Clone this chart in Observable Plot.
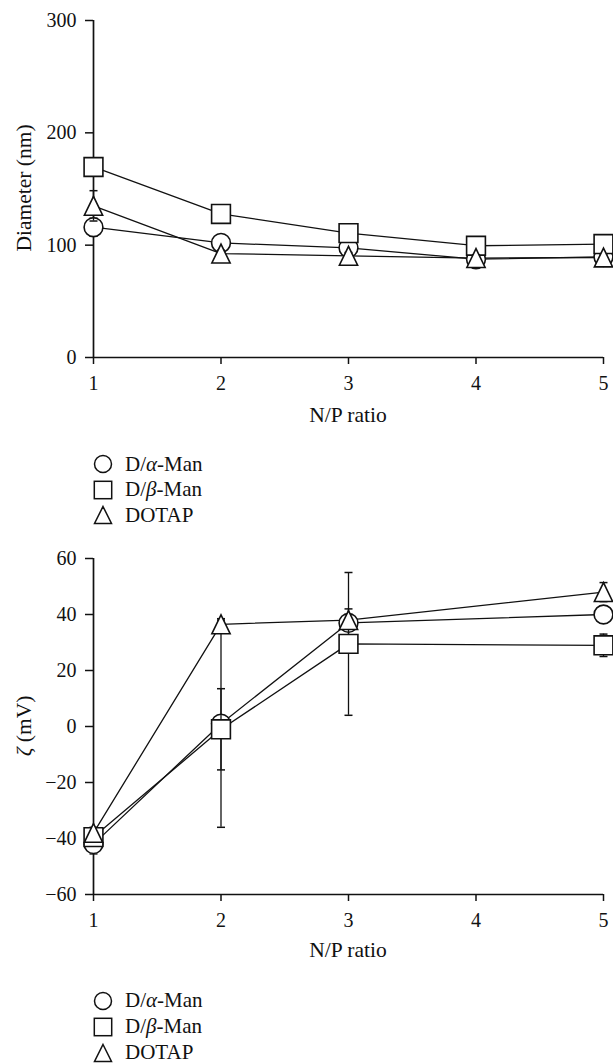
<!DOCTYPE html>
<html>
<head>
<meta charset="utf-8">
<script src="https://cdn.jsdelivr.net/npm/d3@7"></script>
<script src="https://cdn.jsdelivr.net/npm/@observablehq/plot@0.6"></script>
<style>
  html, body { margin: 0; padding: 0; background: #fff; }
  #wrap { position: relative; width: 613px; height: 1063px; overflow: hidden; font-family: "Liberation Serif", "Times New Roman", Tinos, serif; color: #111; }
  .abs { position: absolute; }
  .title { font-size: 21.5px; line-height: 21px; white-space: nowrap; }
  .ylab { transform: translate(-50%, -50%) rotate(-90deg); }
  .leg { position: absolute; left: 92px; display: flex; align-items: center; font-size: 21px; line-height: 21px; white-space: nowrap; }
  .leg svg { width: 22px; height: 22px; margin-right: 11px; overflow: visible; }
</style>
</head>
<body>
<div id="wrap"></div>
<script>
// ---------- data ----------
const seriesNames = ["D/α-Man", "D/β-Man", "DOTAP"];

// Panel A: particle diameter (nm)
const ratiosA = [1, 2, 3, 4, 5];
const diamAlpha = [116, 102, 97.6, 87.5, 89.5];
const diamBeta = [169.6, 127.8, 110.7, 99.5, 101];
const diamDotap = [135, 92.5, 90.5, 88.5, 89];
const diamAlphaErr = [8, 3, 3, 3, 2];
const diamBetaErr = [8, 3, 3, 3, 3];
const diamDotapErr = [13.5, 3, 3, 3, 3];
const diamTicks = [0, 100, 200, 300];

// Panel B: zeta potential (mV)
const ratiosB = [1, 2, 3, 5];
const zetaAlpha = [-42, 1, 37, 40];
const zetaBeta = [-39.5, -1, 29.5, 29];
const zetaDotap = [-38, 36.5, 38, 48];
const zetaAlphaErr = [3.5, 37, 5, 2];
const zetaBetaErr = [2, 14.5, 25.5, 4];
const zetaDotapErr = [2, 2, 2, 3.4];
const zetaTicks = [-60, -40, -20, 0, 20, 40, 60];

const xTicks = [1, 2, 3, 4, 5];

const FONT = '"Liberation Serif", "Times New Roman", Tinos, serif';

// ---------- symbols ----------
const symCircle = { draw(ctx, size) { const r = Math.sqrt(size / Math.PI); ctx.moveTo(r, 0); ctx.arc(0, 0, r, 0, 2 * Math.PI); ctx.closePath(); } };
const symSquare = { draw(ctx, size) { const r = Math.sqrt(size / Math.PI); ctx.rect(-r, -r, 2 * r, 2 * r); } };
const symTriangle = { draw(ctx, size) { const r = Math.sqrt(size / Math.PI); ctx.moveTo(0, -r); ctx.lineTo(r * 0.97, r); ctx.lineTo(-r * 0.97, r); ctx.closePath(); } };
const symCap = { draw(ctx, size) { const r = Math.sqrt(size / Math.PI); ctx.moveTo(-r, 0); ctx.lineTo(r, 0); } };
const symbols = [symCircle, symSquare, symTriangle];

function rows(xs, vals, errs, series) {
  return xs.map((x, i) => ({ x, v: vals[i], e: errs[i], s: series }));
}

const fmt = d => (d < 0 ? "\u2212" + Math.abs(d) : String(d));

function panel({ data, yDomain, yTicks, marginTop, marginBottom, height }) {
  const all = data.flat();
  const marks = [
    Plot.ruleY([yDomain[0]], { stroke: "#111", strokeWidth: 1.7 }),
    Plot.ruleX([1], { stroke: "#111", strokeWidth: 1.7 }),
    Plot.axisX({ ticks: xTicks, tickSize: 7, tickPadding: 11, tickFormat: fmt, label: null, strokeWidth: 1.5 }),
    Plot.axisY({ ticks: yTicks, tickSize: 8, tickPadding: 9, tickFormat: fmt, label: null, strokeWidth: 1.5 }),
    Plot.line(all, { x: "x", y: "v", z: "s", stroke: "#111", strokeWidth: 1.3 })
  ];
  data.forEach((d, k) => {
    marks.push(Plot.ruleX(d, { x: "x", y1: r => r.v - r.e, y2: r => r.v + r.e, stroke: "#111", strokeWidth: 1.3 }));
    marks.push(Plot.dot(d, { x: "x", y: r => r.v + r.e, symbol: symCap, r: 4, stroke: "#111", strokeWidth: 1.5 }));
    marks.push(Plot.dot(d, { x: "x", y: r => r.v - r.e, symbol: symCap, r: 4, stroke: "#111", strokeWidth: 1.5 }));
    marks.push(Plot.dot(d, { x: "x", y: "v", symbol: symbols[k], r: 9.4, fill: "white", stroke: "#111", strokeWidth: 1.6 }));
  });
  return Plot.plot({
    width: 613,
    height,
    marginLeft: 93,
    marginRight: 10,
    marginTop,
    marginBottom,
    x: { domain: [1, 5] },
    y: { domain: yDomain },
    style: { fontFamily: FONT, fontSize: "20px", color: "#111", background: "white", overflow: "visible" },
    marks
  });
}

const wrap = document.getElementById("wrap");

function place(el, top) {
  el.style.position = "absolute";
  el.style.left = "0px";
  el.style.top = top + "px";
  wrap.appendChild(el);
}

function addDiv(html, cls, css) {
  const d = document.createElement("div");
  d.className = cls;
  d.innerHTML = html;
  Object.assign(d.style, css);
  wrap.appendChild(d);
  return d;
}

const legendIcons = [
  '<svg viewBox="-11 -11 22 22"><circle r="8.5" fill="white" stroke="#111" stroke-width="1.5"/></svg>',
  '<svg viewBox="-11 -11 22 22"><rect x="-8.7" y="-8.7" width="17.4" height="17.4" fill="white" stroke="#111" stroke-width="1.5"/></svg>',
  '<svg viewBox="-11 -11 22 22"><path d="M0,-8.5L8.5,8.5L-8.5,8.5Z" fill="white" stroke="#111" stroke-width="1.5"/></svg>'
];
const legendLabels = ["D/<i>α</i>-Man", "D/<i>β</i>-Man", "DOTAP"];

function legend(centers) {
  centers.forEach((c, i) => {
    addDiv(legendIcons[i] + "<span>" + legendLabels[i] + "</span>", "leg", { top: (c - 11) + "px", height: "22px" });
  });
}

// Panel A
const dataA = [
  rows(ratiosA, diamAlpha, diamAlphaErr, seriesNames[0]),
  rows(ratiosA, diamBeta, diamBetaErr, seriesNames[1]),
  rows(ratiosA, diamDotap, diamDotapErr, seriesNames[2])
];
place(panel({ data: dataA, yDomain: [0, 300], yTicks: diamTicks, marginTop: 20, marginBottom: 43, height: 400 }), 0);
addDiv("Diameter (nm)", "abs title ylab", { left: "24px", top: "188px" });
addDiv("N/P ratio", "abs title", { left: "248px", width: "200px", textAlign: "center", top: "405px" });
legend([464, 489.5, 515]);

// Panel B
const dataB = [
  rows(ratiosB, zetaAlpha, zetaAlphaErr, seriesNames[0]),
  rows(ratiosB, zetaBeta, zetaBetaErr, seriesNames[1]),
  rows(ratiosB, zetaDotap, zetaDotapErr, seriesNames[2])
];
place(panel({ data: dataB, yDomain: [-60, 60], yTicks: zetaTicks, marginTop: 28, marginBottom: 36, height: 400 }), 530);
addDiv("<i>ζ</i> (mV)", "abs title ylab", { left: "24px", top: "726px" });
addDiv("N/P ratio", "abs title", { left: "248px", width: "200px", textAlign: "center", top: "940px" });
legend([1000.7, 1026.5, 1052.5]);
</script>
</body>
</html>
